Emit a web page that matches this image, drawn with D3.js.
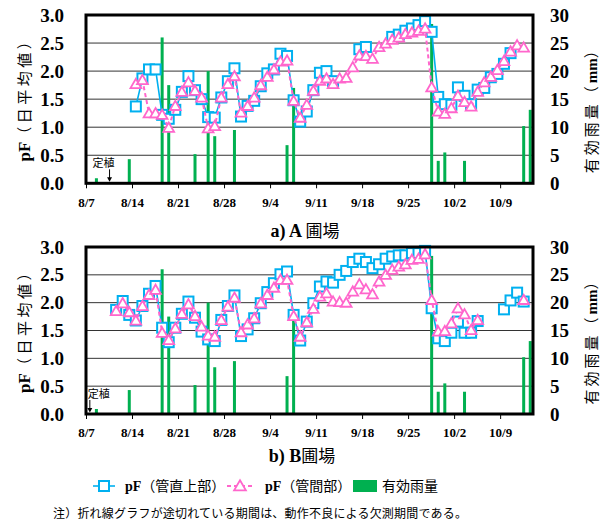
<!doctype html>
<html>
<head>
<meta charset="utf-8">
<title>pF</title>
<script src="https://cdn.jsdelivr.net/npm/d3@7"></script>
<style>
  body { margin: 0; background: #fff; }
</style>
</head>
<body>
<script>
// axis ticks
const tickDates = ["8/7", "8/14", "8/21", "8/28", "9/4", "9/11", "9/18", "9/25", "10/2", "10/9"];
const pfTicks = [0, 0.5, 1.0, 1.5, 2.0, 2.5, 3.0];
const rainTicks = [0, 5, 10, 15, 20, 25, 30];

// effective rainfall (mm), same for both fields
const rainDates = ["8/8", "8/13", "8/18", "8/19", "8/23", "8/25", "8/26", "8/29", "9/6", "9/7",
  "9/28", "9/29", "9/30", "10/3", "10/12", "10/13"];
const rainMm = [0.9, 4.3, 26, 17.5, 5.2, 20, 8.4, 9.5, 6.8, 17, 28.4, 4, 5.5, 4, 10.2, 13.1];

// a) A field, daily values from aStart (null = missing)
const aStart = "8/14";
const aUpper = [1.37, 1.87, 2.03, 2.03, 1.22, 1.15, 1.31, 1.63, 1.91, 1.66,
  1.50, 1.18, 1.17, 1.53, 1.82, 2.05, 1.19, 1.38, 1.47, 1.73,
  1.96, 2.03, 2.31, 2.27, 1.48, 1.10, 1.28, 1.66, 1.97, 2.00,
  1.82, null, null, null, 2.39, 2.43, null, null, null, 2.61,
  2.65, 2.72, 2.76, 2.82, 2.89, 2.70, 1.54, 1.41, 1.40, 1.71,
  1.56, 1.41, 1.67, 1.70, 1.89, 1.95, 2.13, 2.32];
const aBetween = [1.77, 1.84, 1.25, 1.25, 1.22, 0.99, 1.38, 1.63, 1.80, 1.65,
  1.53, 0.98, 1.02, 1.53, 1.77, 1.91, 1.26, 1.38, 1.53, 1.75,
  1.90, 2.03, 2.17, 2.19, 1.47, 1.17, 1.40, 1.65, 1.83, 1.87,
  1.77, 1.87, 1.88, 2.07, 2.28, 2.27, 2.22, 2.43, 2.49, 2.56,
  2.60, 2.66, 2.69, 2.72, 2.76, 1.71, 1.28, 1.24, 1.34, 1.56,
  1.45, 1.37, 1.63, 1.80, 1.90, 2.02, 2.18, 2.35, 2.46, 2.42];

// b) B field
const bStart = "8/11";
const bUpper = [1.87, 2.03, 1.78, 1.68, 1.94, 2.16, 2.30, 1.55, 1.29, 1.55,
  1.80, 2.02, 1.73, 1.48, 1.34, 1.31, 1.69, 1.94, 2.13, 1.40,
  1.52, 1.72, 1.99, 2.19, 2.35, 2.51, 2.56, 1.78, 1.32, 1.66,
  1.99, 2.29, 2.38, 2.36, 2.50, 2.57, 2.73, 2.79, 2.73, 2.62,
  2.69, 2.79, 2.83, 2.85, 2.85, 2.89, 2.89, 2.93, 1.90, 1.36,
  1.31, 1.46, 1.66, 1.46, 1.46, 1.67, null, null, null, 1.88,
  2.04, 2.18, 2.02];
const bBetween = [1.85, 1.99, 1.83, 1.68, 1.94, 2.14, 2.23, 1.46, 1.33, 1.54,
  1.80, 1.97, 1.76, 1.57, 1.41, 1.39, 1.69, 1.93, 2.09, 1.47,
  1.61, 1.72, 1.99, 2.14, 2.27, 2.41, 2.41, 1.76, 1.39, 1.65,
  1.89, 2.11, 2.17, 2.02, 2.01, 2.00, 2.20, 2.33, 2.24, 2.15,
  2.38, 2.50, 2.59, 2.65, 2.69, 2.77, 2.79, 2.87, 2.05, 1.48,
  1.49, 1.63, 1.90, 1.79, 1.51, 1.69, null, null, null, null,
  null, null, 2.05];

const plantA = "8/10";
const plantB = "8/7";

const W = 602, H = 529;
const blue = "#00b0f0", pink = "#ff66cc", green = "#00b050";
const serif = "'Liberation Serif', 'Times New Roman', serif";
const jp = "'Noto Sans CJK JP', sans-serif";

const parse = s => { const [m, d] = s.split("/").map(Number); return new Date(2001, m - 1, d); };
const mid = d => d3.timeHour.offset(d, 14);

const x = d3.scaleTime()
  .domain([parse("8/7"), parse("10/14")])
  .range([86, 533]);

const svg = d3.select("body").append("svg")
  .attr("width", W)
  .attr("height", H)
  .style("background", "#fff");

function panel(top, bottom, upper, between, start, plant, plantStyle) {
  const y = d3.scaleLinear().domain([0, 3]).range([bottom, top]);
  const yRain = d3.scaleLinear().domain([0, 30]).range([bottom, top]);
  const g = svg.append("g");

  // gridlines
  g.selectAll("line.grid")
    .data(pfTicks.slice(1, -1))
    .join("line")
    .attr("x1", x.range()[0]).attr("x2", x.range()[1])
    .attr("y1", d => y(d)).attr("y2", d => y(d))
    .attr("stroke", "#333").attr("stroke-width", 1);

  // rain bars
  const rain = rainDates.map((d, i) => ({ date: parse(d), v: rainMm[i] }));
  g.selectAll("rect.bar")
    .data(rain)
    .join("rect")
    .attr("x", d => x(mid(d.date)) - 1.5)
    .attr("width", 3)
    .attr("y", d => yRain(d.v))
    .attr("height", d => yRain(0) - yRain(d.v))
    .attr("fill", green);

  const toSeries = arr => arr.map((v, i) => ({ date: d3.timeDay.offset(parse(start), i), v }));
  const line = d3.line()
    .defined(d => d.v != null)
    .x(d => x(mid(d.date)))
    .y(d => y(d.v));

  const up = toSeries(upper), bt = toSeries(between);

  g.append("path").datum(up)
    .attr("d", line).attr("fill", "none")
    .attr("stroke", blue).attr("stroke-width", 1.6);
  g.selectAll("rect.sq")
    .data(up.filter(d => d.v != null))
    .join("rect")
    .attr("x", d => x(mid(d.date)) - 5)
    .attr("y", d => y(d.v) - 5)
    .attr("width", 10).attr("height", 10)
    .attr("fill", "#fff").attr("stroke", blue).attr("stroke-width", 2);

  g.append("path").datum(bt)
    .attr("d", line).attr("fill", "none")
    .attr("stroke", pink).attr("stroke-width", 2)
    .attr("stroke-dasharray", "4,3");
  const tri = d3.symbol().type(d3.symbolTriangle).size(50);
  g.selectAll("path.tri")
    .data(bt.filter(d => d.v != null))
    .join("path")
    .attr("d", tri)
    .attr("transform", d => `translate(${x(mid(d.date))},${y(d.v) + 1})`)
    .attr("fill", "#fff").attr("stroke", pink).attr("stroke-width", 1.8);

  // frame
  g.append("rect")
    .attr("x", x.range()[0]).attr("y", top)
    .attr("width", x.range()[1] - x.range()[0]).attr("height", bottom - top)
    .attr("fill", "none").attr("stroke", "#000").attr("stroke-width", 3);

  // axes
  const xa = g.append("g")
    .attr("transform", `translate(0,${bottom})`)
    .call(d3.axisBottom(x)
      .tickValues(tickDates.map(parse))
      .tickFormat(d3.timeFormat("%-m/%-d"))
      .tickSize(5).tickPadding(9).tickSizeOuter(0));
  xa.select(".domain").remove();
  xa.selectAll("text").attr("font-family", serif).attr("font-weight", "bold").attr("font-size", 13).attr("fill", "#000");

  const ya = g.append("g")
    .attr("transform", `translate(${x.range()[0]},0)`)
    .call(d3.axisLeft(y).tickValues(pfTicks).tickFormat(d3.format(".1f")).tickSize(0).tickPadding(22));
  ya.select(".domain").remove();
  ya.selectAll("text").attr("font-family", serif).attr("font-weight", "bold").attr("font-size", 19).attr("fill", "#000");

  const ra = g.append("g")
    .attr("transform", `translate(${x.range()[1]},0)`)
    .call(d3.axisRight(yRain).tickValues(rainTicks).tickSize(0).tickPadding(17));
  ra.select(".domain").remove();
  ra.selectAll("text").attr("font-family", serif).attr("font-weight", "bold").attr("font-size", 19).attr("fill", "#000");

  // axis titles
  const cy = (top + bottom) / 2 - 3;
  const lt = g.append("text")
    .attr("transform", `translate(30,${cy}) rotate(-90)`)
    .attr("text-anchor", "middle");
  lt.append("tspan").attr("font-family", serif).attr("font-weight", "bold").attr("font-size", 17).text("pF");
  lt.append("tspan").attr("font-family", jp).attr("font-size", 15).attr("letter-spacing", 3.5).text("（日平均値）");

  const rt = g.append("text")
    .attr("transform", `translate(597,${cy + 12}) rotate(-90)`)
    .attr("text-anchor", "middle");
  rt.append("tspan").attr("font-family", jp).attr("font-size", 15).attr("letter-spacing", 3).text("有効雨量（");
  rt.append("tspan").attr("font-family", serif).attr("font-weight", "bold").attr("font-size", 15).text("mm");
  rt.append("tspan").attr("font-family", jp).attr("font-size", 15).text("）");

  // planting marker
  const px = x(mid(parse(plant)));
  g.append("line")
    .attr("x1", px).attr("x2", px)
    .attr("y1", bottom - 14).attr("y2", bottom - 3)
    .attr("stroke", "#000").attr("stroke-width", 1);
  g.append("path")
    .attr("d", `M${px - 2.5},${bottom - 6} L${px + 2.5},${bottom - 6} L${px},${bottom - 1.5} Z`)
    .attr("fill", "#000");
  g.append("text")
    .attr("x", plantStyle === "mid" ? px - 6 : px - 2)
    .attr("y", bottom - 16)
    .attr("text-anchor", plantStyle === "mid" ? "middle" : "start")
    .attr("font-family", jp).attr("font-size", 11).attr("fill", "#000")
    .text("定植");
}

panel(15, 183.3, aUpper, aBetween, aStart, plantA, "mid");
panel(247, 414, bUpper, bBetween, bStart, plantB, "start");

// panel captions
const capA = svg.append("text").attr("x", 305).attr("y", 237).attr("text-anchor", "middle");
capA.append("tspan").attr("font-family", serif).attr("font-weight", "bold").attr("font-size", 18).text("a) A ");
capA.append("tspan").attr("font-family", jp).attr("font-size", 17).text("圃場");

const capB = svg.append("text").attr("x", 302).attr("y", 462).attr("text-anchor", "middle");
capB.append("tspan").attr("font-family", serif).attr("font-weight", "bold").attr("font-size", 18).text("b) B");
capB.append("tspan").attr("font-family", jp).attr("font-size", 17).text("圃場");

// legend
const ly = 486;
const leg = svg.append("g");
leg.append("line").attr("x1", 93).attr("x2", 115).attr("y1", ly).attr("y2", ly)
  .attr("stroke", blue).attr("stroke-width", 1.6);
leg.append("rect").attr("x", 99).attr("y", ly - 5).attr("width", 10).attr("height", 10)
  .attr("fill", "#fff").attr("stroke", blue).attr("stroke-width", 2);
const t1 = leg.append("text").attr("x", 125).attr("y", ly + 5);
t1.append("tspan").attr("font-family", serif).attr("font-weight", "bold").attr("font-size", 14).text("pF");
t1.append("tspan").attr("font-family", jp).attr("font-size", 14).text("（管直上部）");

leg.append("line").attr("x1", 227).attr("x2", 253).attr("y1", ly).attr("y2", ly)
  .attr("stroke", pink).attr("stroke-width", 2).attr("stroke-dasharray", "4,3");
leg.append("path").attr("d", d3.symbol().type(d3.symbolTriangle).size(60))
  .attr("transform", `translate(240,${ly + 1})`)
  .attr("fill", "#fff").attr("stroke", pink).attr("stroke-width", 1.8);
const t2 = leg.append("text").attr("x", 265).attr("y", ly + 5);
t2.append("tspan").attr("font-family", serif).attr("font-weight", "bold").attr("font-size", 14).text("pF");
t2.append("tspan").attr("font-family", jp).attr("font-size", 14).text("（管間部）");

leg.append("rect").attr("x", 353).attr("y", ly - 6).attr("width", 24).attr("height", 12).attr("fill", green);
leg.append("text").attr("x", 382).attr("y", ly + 5)
  .attr("font-family", jp).attr("font-size", 14).text("有効雨量");

// footnote
svg.append("text")
  .attr("x", 53).attr("y", 518)
  .attr("font-family", jp).attr("font-size", 12)
  .attr("textLength", 414)
  .text("注）折れ線グラフが途切れている期間は、動作不良による欠測期間である。");
</script>
</body>
</html>
